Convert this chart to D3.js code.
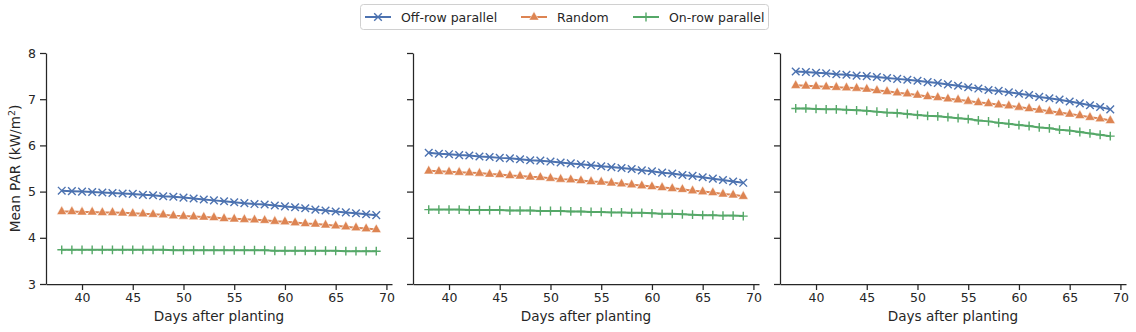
<!DOCTYPE html>
<html><head><meta charset="utf-8">
<script src="https://cdn.jsdelivr.net/npm/d3@7"></script>
<style>body{margin:0;background:#fff}svg{display:block}text{font-family:"DejaVu Sans",sans-serif;fill:#262626}</style>
</head><body><svg id="c" width="1136" height="332"></svg>
<script>
const days = d3.range(38, 70);
const seriesNames = ["Off-row parallel", "Random", "On-row parallel"];
const xTicks = [40, 45, 50, 55, 60, 65, 70];
const yTicks = [3, 4, 5, 6, 7, 8];

const p1Off = [5.02,5.01,5.00,4.99,4.98,4.97,4.96,4.95,4.93,4.92,4.90,4.89,4.87,4.85,4.83,4.81,4.79,4.77,4.75,4.73,4.72,4.70,4.68,4.66,4.64,4.61,4.59,4.57,4.55,4.53,4.51,4.49];
const p1Rand = [4.57,4.57,4.56,4.56,4.55,4.55,4.54,4.53,4.52,4.51,4.50,4.48,4.47,4.46,4.45,4.44,4.42,4.41,4.40,4.39,4.38,4.36,4.35,4.33,4.31,4.30,4.28,4.26,4.24,4.22,4.20,4.18];
const p1On = [3.74,3.74,3.74,3.74,3.74,3.74,3.74,3.74,3.74,3.74,3.74,3.73,3.73,3.73,3.73,3.73,3.73,3.73,3.73,3.73,3.73,3.72,3.72,3.72,3.72,3.72,3.72,3.72,3.71,3.71,3.71,3.71];

const p2Off = [5.84,5.82,5.81,5.79,5.78,5.76,5.75,5.73,5.72,5.70,5.68,5.67,5.65,5.63,5.61,5.59,5.57,5.55,5.53,5.51,5.49,5.46,5.44,5.41,5.39,5.36,5.34,5.31,5.28,5.25,5.22,5.19];
const p2Rand = [5.45,5.44,5.43,5.42,5.41,5.40,5.38,5.37,5.35,5.34,5.32,5.31,5.29,5.27,5.26,5.24,5.22,5.21,5.19,5.17,5.15,5.13,5.11,5.09,5.07,5.05,5.02,5.00,4.98,4.95,4.93,4.90];
const p2On = [4.61,4.61,4.61,4.61,4.60,4.60,4.60,4.60,4.59,4.59,4.59,4.58,4.58,4.58,4.57,4.57,4.56,4.56,4.55,4.55,4.54,4.54,4.53,4.52,4.52,4.51,4.50,4.49,4.49,4.48,4.48,4.47];

const p3Off = [7.60,7.59,7.57,7.56,7.54,7.53,7.51,7.50,7.48,7.46,7.44,7.42,7.40,7.37,7.35,7.32,7.29,7.26,7.23,7.20,7.18,7.15,7.12,7.09,7.05,7.02,6.99,6.95,6.91,6.87,6.83,6.78];
const p3Rand = [7.30,7.29,7.28,7.27,7.26,7.25,7.24,7.22,7.19,7.17,7.14,7.12,7.09,7.06,7.04,7.01,6.99,6.96,6.93,6.91,6.88,6.86,6.83,6.80,6.77,6.74,6.71,6.68,6.65,6.61,6.58,6.54];
const p3On = [6.80,6.80,6.79,6.78,6.78,6.77,6.76,6.75,6.73,6.71,6.70,6.68,6.66,6.64,6.63,6.61,6.59,6.57,6.54,6.52,6.49,6.47,6.44,6.42,6.39,6.37,6.34,6.32,6.29,6.26,6.23,6.20];

const panels = [[p1Off, p1Rand, p1On], [p2Off, p2Rand, p2On], [p3Off, p3Rand, p3On]];
const colors = ["#4c72b0", "#dd8452", "#55a868"];
const markers = ["x", "tri", "plus"];

const svg = d3.select("#c");
const panelLeft = [46, 413, 780];
const panelW = 346;
const yTop = 53, yBot = 284;
const y = d3.scaleLinear().domain([3, 8]).range([yBot, yTop]);

function drawMarker(g, type, color, px, py) {
  if (type === "x") {
    const s = 3.8;
    g.append("path").attr("d", `M${px-s},${py-s}L${px+s},${py+s}M${px-s},${py+s}L${px+s},${py-s}`)
      .attr("stroke", color).attr("stroke-width", 1.4).attr("fill", "none");
  } else if (type === "plus") {
    const s = 4.4;
    g.append("path").attr("d", `M${px-s},${py}L${px+s},${py}M${px},${py-s}L${px},${py+s}`)
      .attr("stroke", color).attr("stroke-width", 1.4).attr("fill", "none");
  } else {
    const s = 5.6;
    g.append("path").attr("d", `M${px},${py-s}L${px+s*0.88},${py+s*0.55}L${px-s*0.88},${py+s*0.55}Z`)
      .attr("fill", color).attr("stroke", "#fff").attr("stroke-width", 0.5);
  }
}

panels.forEach((data, pi) => {
  const x = d3.scaleLinear().domain([36.45, 70.55]).range([panelLeft[pi], panelLeft[pi] + panelW]);
  const g = svg.append("g");
  const xa = g.append("g").attr("transform", `translate(0,${yBot})`)
    .call(d3.axisBottom(x).tickValues(xTicks).tickSize(6).tickPadding(3).tickSizeOuter(0));
  xa.select(".domain").attr("stroke", "#262626").attr("stroke-width", 1.25);
  xa.selectAll(".tick line").attr("stroke", "#262626").attr("stroke-width", 1.25);
  xa.selectAll("text").style("font-size", "12.5px").attr("fill", "#262626").style("font-family", "DejaVu Sans");
  const ya = g.append("g").attr("transform", `translate(${panelLeft[pi]},0)`)
    .call(d3.axisLeft(y).tickValues(yTicks).tickSize(6).tickPadding(4).tickSizeOuter(0)
      .tickFormat(pi === 0 ? d3.format("d") : () => ""));
  ya.select(".domain").attr("stroke", "#262626").attr("stroke-width", 1.25);
  ya.selectAll(".tick line").attr("stroke", "#262626").attr("stroke-width", 1.25);
  ya.selectAll("text").style("font-size", "12.5px").attr("fill", "#262626").style("font-family", "DejaVu Sans");
  g.append("text").attr("x", panelLeft[pi] + panelW / 2).attr("y", 321)
    .attr("text-anchor", "middle").style("font-size", "13.6px").text("Days after planting");
  data.forEach((vals, si) => {
    const line = d3.line().x((d, i) => x(days[i])).y(d => y(d));
    g.append("path").datum(vals).attr("d", line).attr("fill", "none")
      .attr("stroke", colors[si]).attr("stroke-width", 2);
    const mg = g.append("g");
    vals.forEach((v, i) => drawMarker(mg, markers[si], colors[si], x(days[i]), y(v)));
  });
});

svg.append("text").attr("transform", `translate(20,${(yTop + yBot) / 2}) rotate(-90)`)
  .attr("text-anchor", "middle").style("font-size", "13.6px")
  .html('Mean PAR (kW/m<tspan dy="-5" font-size="9.5px">2</tspan><tspan dy="5">)</tspan>');

const lg = svg.append("g");
lg.append("rect").attr("x", 360.5).attr("y", 4.5).attr("width", 408).attr("height", 25).attr("rx", 3)
  .attr("fill", "#fff").attr("stroke", "#d0d0d0").attr("stroke-width", 1);
const legX = [365, 521, 633];
seriesNames.forEach((n, i) => {
  const cy = 17;
  lg.append("line").attr("x1", legX[i]).attr("x2", legX[i] + 26).attr("y1", cy).attr("y2", cy)
    .attr("stroke", colors[i]).attr("stroke-width", 2);
  drawMarker(lg, markers[i], colors[i], legX[i] + 13, cy);
  lg.append("text").attr("x", legX[i] + 36).attr("y", cy + 4.5).style("font-size", "12.5px").text(n);
});
</script></body></html>
